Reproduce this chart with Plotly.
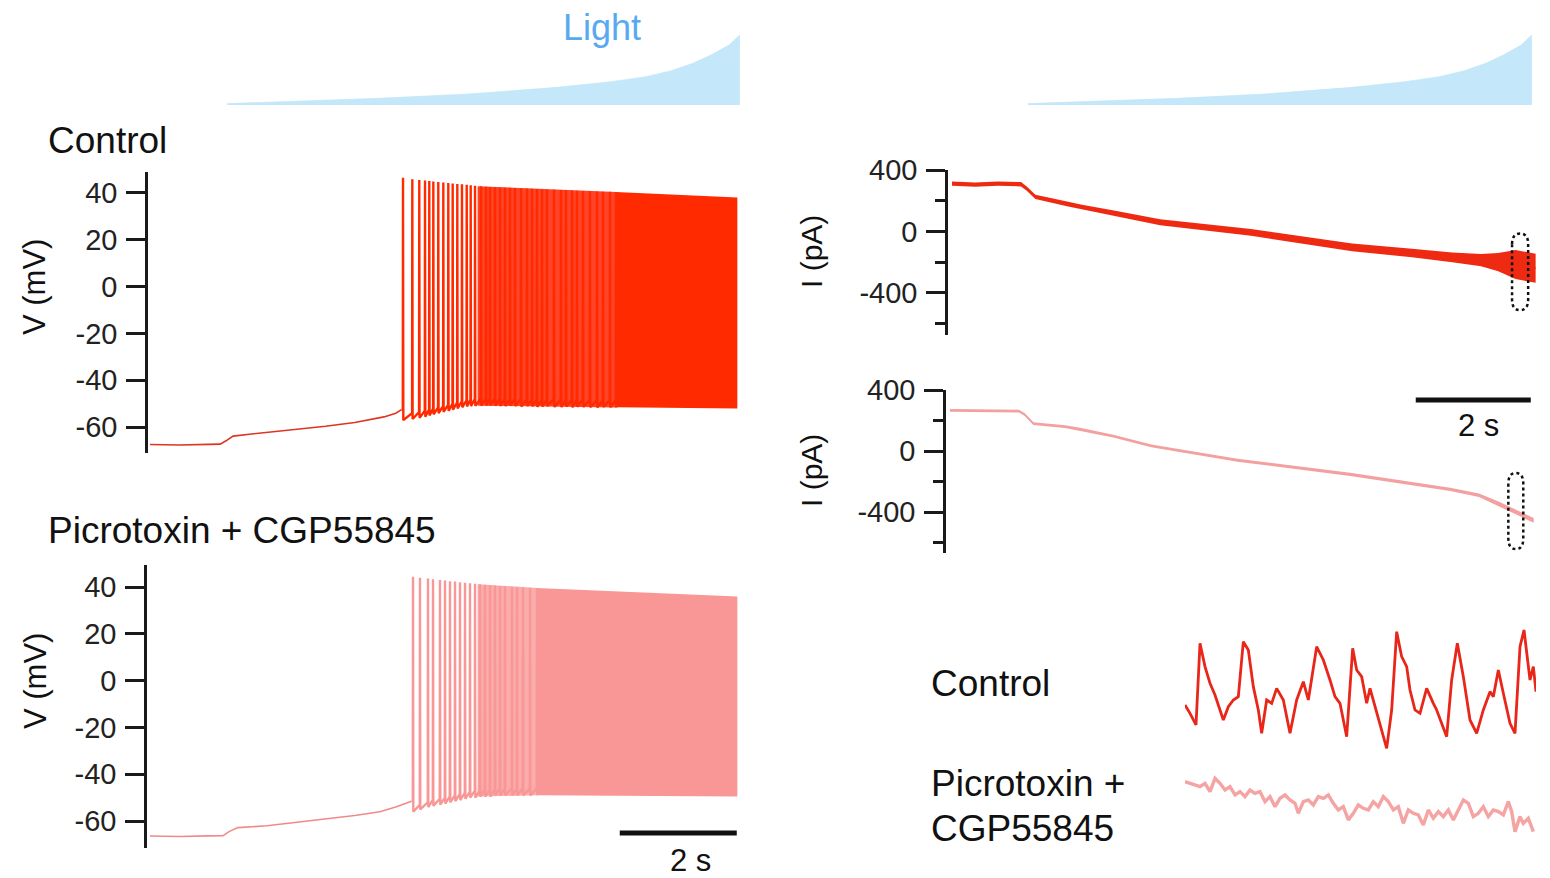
import plotly.graph_objects as go

W, H = 1550, 878
FONT = "Liberation Sans, Arial, Helvetica, sans-serif"

# ---------------- light stimulus (relative intensity vs time, s) ----------------
light_t = [1.32, 2.38, 3.91, 5.44, 6.96, 7.88, 8.48, 8.91, 9.28, 9.59, 9.90, 10.08, 10.081]
light_i = [0.02, 0.048, 0.095, 0.157, 0.252, 0.333, 0.405, 0.49, 0.595, 0.714, 0.857, 1.0, 0.0]

# ---------------- current clamp, Control ----------------
ctrl_pre_t = [0.0, 0.5, 1.0, 1.2, 1.3, 1.42, 1.7, 2.5, 3.0, 3.5, 4.0, 4.2, 4.3]
ctrl_pre_v = [-67.4, -67.6, -67.3, -67.2, -65.8, -63.8, -63.0, -61.0, -59.6, -58.0, -55.6, -54.0, -52.5]
ctrl_spk_t = [4.325, 4.484, 4.603, 4.701, 4.774, 4.843, 4.928, 5.014, 5.099, 5.174,
              5.253, 5.333, 5.414, 5.482, 5.556, 5.658, 5.744, 5.812, 5.897, 5.983,
              6.068, 6.154, 6.239, 6.342, 6.444, 6.530, 6.615, 6.701, 6.786, 6.906,
              7.026, 7.111, 7.214, 7.299, 7.402, 7.521, 7.641, 7.744, 7.863, 7.966]
ctrl_spk_peak = [46.4, 45.8, 45.5, 45.2, 45.0, 44.8, 44.6, 44.4, 44.2, 44.0,
                 43.8, 43.6, 43.4, 43.2, 43.0, 42.8, 42.6, 42.5, 42.4, 42.3,
                 42.2, 42.1, 42.0, 41.9, 41.8, 41.7, 41.6, 41.5, 41.4, 41.3,
                 41.2, 41.1, 41.0, 40.9, 40.8, 40.7, 40.6, 40.5, 40.4, 40.3]
ctrl_spk_trough = [-57.0, -56.5, -56.0, -55.5, -55.0, -54.5, -54.0, -53.5, -53.0, -52.5,
                   -52.0, -51.5, -51.2, -51.0, -50.8, -50.8, -50.7, -50.7, -50.8, -50.9,
                   -51.0, -50.8, -51.0, -51.2, -51.0, -51.1, -51.3, -51.2, -51.0, -51.3,
                   -51.4, -51.2, -51.5, -51.3, -51.4, -51.5, -51.6, -51.4, -51.5, -51.6]
# envelopes of the merged high-frequency firing
ctrl_mix_t = [5.60, 7.97]
ctrl_mix_top = [42.8, 40.3]
ctrl_mix_bot = [-50.8, -51.6]
ctrl_dense_t = [7.96, 9.0, 10.04]
ctrl_dense_top = [40.3, 39.0, 38.0]
ctrl_dense_bot = [-51.5, -51.8, -52.0]

# ---------------- current clamp, Picrotoxin + CGP55845 ----------------
pic_pre_t = [0.0, 0.5, 1.0, 1.25, 1.35, 1.5, 2.0, 2.5, 3.0, 3.5, 3.93, 4.2, 4.47]
pic_pre_v = [-66.4, -66.6, -66.3, -66.2, -64.5, -62.8, -62.0, -60.6, -59.2, -57.6, -56.0, -54.0, -51.5]
pic_spk_t = [4.496, 4.615, 4.752, 4.838, 4.957, 5.043, 5.128, 5.214, 5.299, 5.385,
             5.470, 5.556, 5.641, 5.726, 5.812, 5.897, 5.983, 6.068, 6.188, 6.274,
             6.376, 6.496, 6.615]
pic_spk_peak = [44.4, 44.0, 43.6, 43.3, 43.0, 42.8, 42.5, 42.3, 42.0, 41.8,
                41.6, 41.4, 41.2, 41.0, 40.8, 40.6, 40.4, 40.2, 40.0, 39.9,
                39.8, 39.7, 39.6]
pic_spk_trough = [-56.0, -55.0, -54.0, -53.5, -53.0, -52.5, -52.0, -51.5, -51.0, -50.5,
                  -50.0, -50.0, -49.5, -49.5, -49.5, -49.0, -49.0, -49.0, -49.0, -49.0,
                  -49.0, -49.0, -49.0]
pic_mix_t = [5.60, 6.62]
pic_mix_top = [41.2, 39.6]
pic_mix_bot = [-49.5, -49.0]
pic_dense_t = [6.61, 8.3, 10.04]
pic_dense_top = [39.6, 37.8, 35.9]
pic_dense_bot = [-49.0, -49.2, -49.5]

# ---------------- voltage clamp currents (pA) ----------------
ictrl_t = [0.0, 0.4, 0.8, 1.2, 1.3, 1.45, 2.0, 2.26, 2.84, 3.62, 5.2, 6.96, 8.0, 8.7, 9.2, 9.5, 9.8, 10.15]
ictrl_mean = [312, 305, 312, 308, 280, 226, 180, 158, 117, 60, -6, -104, -140, -169, -186, -200, -215, -240]
ictrl_noise = [14, 14, 14, 14, 14, 14, 16, 16, 18, 20, 22, 25, 28, 32, 40, 60, 95, 95]

ipic_t = [0.0, 0.6, 1.2, 1.3, 1.45, 2.0, 2.26, 2.84, 3.5, 5.0, 6.96, 8.7, 9.2, 9.57, 9.9, 10.15]
ipic_mean = [268, 265, 262, 240, 180, 160, 144, 98, 35, -60, -153, -251, -290, -350, -410, -455]
ipic_noise = [9, 9, 9, 9, 9, 9, 9, 9, 9, 10, 10, 11, 12, 14, 15, 15]

# windows expanded below (time s, current pA)
win_ctrl = dict(t=[9.74, 10.02], i=[-513, -13])
win_pic = dict(t=[9.71, 9.97], i=[-643, -144])

# ---------------- expanded current segments (ms, pA) ----------------
osc_ctrl_t = [0, 3.75, 8.25, 11.25, 15, 18.75, 22.5, 26.25, 28.75, 32.5, 36.25, 40, 43.75, 47.5,
              51.25, 55, 57.5, 61.25, 65, 68.75, 73.75, 78.75, 83.75, 88.75, 92.5, 98.75,
              103.75, 108.75, 112.5, 116.25, 121.25, 125.75, 128.75, 132.5, 136.25, 138.75,
              142.5, 147.5, 151.25, 155, 158.75, 162.5, 166.25, 168.75, 172.5, 176.25,
              181.25, 186.25, 188.75, 196.25, 200, 204.25, 208.75, 213.75, 218.75, 223.75,
              228.75, 231.25, 235, 238.75, 243.75, 247.5, 251.25, 254.25, 258.75, 261.25, 263.25]
osc_ctrl_i = [7.5, -5, -22.5, 100, 65, 40, 22.5, 0, -15, 5, 15, 20, 102.5, 90,
              35, 0, -35, 15, 10, 32.5, 15, -35, 15, 42.5, 15, 95,
              75, 45, 20, 10, -40, 92.5, 60, 50, 10, 32.5,
              5, -30, -57.5, 0, 117.5, 80, 65, 30, 0, -5,
              32.5, 10, 0, -40, 45, 100, 50, -15, -35, 0,
              27.5, 20, 60, 25, -20, -35, 95, 120, 45, 65, 27.5]
osc_pic_t = [0, 3.75, 7.5, 11.25, 15, 18.75, 22.5, 26.25, 30, 33.75, 37.5, 41.25, 45, 48.75,
             52.5, 56.25, 60, 63.75, 67.5, 71.25, 75, 78.75, 82.5, 85, 88.75, 92.5, 96.25,
             100, 103.75, 107.5, 111.25, 115, 118.75, 122.5, 126.25, 130, 133.75, 137.5,
             141.25, 145, 148.75, 152.5, 156.25, 160, 163.75, 167.5, 171.25, 175, 178.75,
             182.5, 186.25, 190, 193.75, 197.5, 201.25, 205, 208.75, 212.5, 216.25, 220,
             223.75, 227.5, 231.25, 235, 238.75, 242.5, 245, 247.5, 251.25, 253.75, 257.5, 261.25]
osc_pic_i = [-107.5, -110, -112.5, -115, -110, -122.5, -102.5, -110, -120, -115, -127.5, -122.5,
             -130, -120, -125, -122.5, -137.5, -130, -145, -132.5, -127.5, -135, -140, -155,
             -137.5, -135, -142.5, -130, -132.5, -127.5, -140, -150, -145, -165, -155, -142.5,
             -147.5, -150, -137.5, -145, -130, -137.5, -150, -145, -170, -150, -155, -157.5,
             -172.5, -150, -162.5, -152.5, -160, -150, -165, -150, -135, -140, -160, -155,
             -145, -160, -150, -152.5, -157.5, -137.5, -152.5, -182.5, -160, -170, -162.5, -182.5]

v_ticks = [-60, -40, -20, 0, 20, 40]
i_ticks = [-400, 0, 400]
i_minor_ticks = [-600, -200, 200]

SCALE_BAR_S = 2

RED = "#ff2a00"
RED_MIX = "#ff4428"
RED_PRE = "#dd3522"
PINK = "#f99696"
PINK_MIX = "#fbacac"
PINK_PRE = "#f08a8a"
LIGHT_FILL = "rgba(190,229,248,0.9)"


def px_x(a, b):
    return [a / W, b / W]


def px_y(top, bottom):
    return [1 - bottom / H, 1 - top / H]


def spike_path(pre_t, pre_v, spk_t, peaks, troughs):
    xs, ys = list(pre_t), list(pre_v)
    prev = pre_v[-1]
    for t, p, tr in zip(spk_t, peaks, troughs):
        xs += [t - 0.004, t, t + 0.005]
        ys += [prev, p, tr]
        prev = tr + 3.0
    return xs, ys


def band(t, top, bot):
    return list(t) + list(t)[::-1], list(top) + list(bot)[::-1]


fig = go.Figure()

# light ramps
for xa, ya in (("x5", "y5"), ("x6", "y6")):
    fig.add_trace(go.Scatter(x=light_t, y=light_i, mode="lines", fill="tozeroy",
                             fillcolor=LIGHT_FILL, line=dict(color="rgba(190,229,248,0.6)", width=1),
                             xaxis=xa, yaxis=ya, hoverinfo="skip"))

# voltage traces
for (pre_t, pre_v, st, sp, sd, mt, mtop, mbot, dt, dtop, dbot, col, mixcol, precol, xa, ya) in (
    (ctrl_pre_t, ctrl_pre_v, ctrl_spk_t, ctrl_spk_peak, ctrl_spk_trough,
     ctrl_mix_t, ctrl_mix_top, ctrl_mix_bot, ctrl_dense_t, ctrl_dense_top, ctrl_dense_bot,
     RED, RED_MIX, RED_PRE, "x", "y"),
    (pic_pre_t, pic_pre_v, pic_spk_t, pic_spk_peak, pic_spk_trough,
     pic_mix_t, pic_mix_top, pic_mix_bot, pic_dense_t, pic_dense_top, pic_dense_bot,
     PINK, PINK_MIX, PINK_PRE, "x2", "y2"),
):
    bx, by = band(mt, mtop, mbot)
    fig.add_trace(go.Scatter(x=bx, y=by, mode="lines", fill="toself", fillcolor=mixcol,
                             line=dict(width=0), xaxis=xa, yaxis=ya, hoverinfo="skip"))
    bx, by = band(dt, dtop, dbot)
    fig.add_trace(go.Scatter(x=bx, y=by, mode="lines", fill="toself", fillcolor=col,
                             line=dict(width=0), xaxis=xa, yaxis=ya, hoverinfo="skip"))
    fig.add_trace(go.Scatter(x=pre_t, y=pre_v, mode="lines",
                             line=dict(color=precol, width=1.6), xaxis=xa, yaxis=ya, hoverinfo="skip"))
    sx, sy = spike_path(pre_t[-1:], pre_v[-1:], st, sp, sd)
    fig.add_trace(go.Scatter(x=sx, y=sy, mode="lines",
                             line=dict(color=col, width=2.4, simplify=False),
                             xaxis=xa, yaxis=ya, hoverinfo="skip"))

# voltage-clamp currents
for (t, m, n, col, w, xa, ya) in ((ictrl_t, ictrl_mean, ictrl_noise, "#ee2a12", 1.5, "x3", "y3"),
                                  (ipic_t, ipic_mean, ipic_noise, "#f3a0a0", 1.2, "x4", "y4")):
    top = [a + b for a, b in zip(m, n)]
    bot = [a - b for a, b in zip(m, n)]
    bx, by = band(t, top, bot)
    fig.add_trace(go.Scatter(x=bx, y=by, mode="lines", fill="toself", fillcolor=col,
                             line=dict(width=0), xaxis=xa, yaxis=ya, hoverinfo="skip"))
    fig.add_trace(go.Scatter(x=t, y=m, mode="lines", line=dict(color=col, width=w),
                             xaxis=xa, yaxis=ya, hoverinfo="skip"))

# expanded segments
fig.add_trace(go.Scatter(x=osc_ctrl_t, y=osc_ctrl_i, mode="lines",
                         line=dict(color="#e8261a", width=2.8), xaxis="x7", yaxis="y7", hoverinfo="skip"))
fig.add_trace(go.Scatter(x=osc_pic_t, y=osc_pic_i, mode="lines",
                         line=dict(color="#f5a3a3", width=3.4), xaxis="x7", yaxis="y7", hoverinfo="skip"))

# ---------------- axes ----------------
tickfont = dict(family=FONT, size=29, color="#222")


def v_axis(domain, rng, anchor, ticks, minor_ticks=None):
    d = dict(domain=domain, range=rng, anchor=anchor, showgrid=False, zeroline=False,
             showline=True, linecolor="#1a1a1a", linewidth=2.5, ticks="outside",
             ticklen=19, tickwidth=2.5, tickcolor="#1a1a1a", tickmode="array",
             tickvals=ticks, ticktext=[str(v) for v in ticks],
             tickfont=tickfont, ticklabelstandoff=3, fixedrange=True, automargin=False)
    if minor_ticks:
        d["minor"] = dict(ticks="outside", ticklen=10, tickwidth=2.5, tickcolor="#1a1a1a",
                          tickmode="array", tickvals=minor_ticks, showgrid=False)
    return d


def hidden(domain, rng, anchor):
    return dict(domain=domain, range=rng, anchor=anchor, visible=False,
                fixedrange=True, automargin=False)


left_rng = [-2 / 58.5, (740 - 150) / 58.5]
right_rng_top = [-4 / 57.5, (1545 - 952) / 57.5]
right_rng_bot = [-4 / 57.5, (1545 - 950) / 57.5]

fig.update_layout(
    width=W, height=H, margin=dict(l=0, r=0, t=0, b=0, pad=0, autoexpand=False),
    paper_bgcolor="white", plot_bgcolor="rgba(0,0,0,0)", showlegend=False,
    xaxis=hidden(px_x(148, 740), left_rng, "y"),
    yaxis=v_axis(px_y(171.7, 453), [-71, 49], "x", v_ticks),
    xaxis2=hidden(px_x(147, 740), [-3 / 58.5, (740 - 150) / 58.5], "y2"),
    yaxis2=v_axis(px_y(565, 848), [-71.5, 49.4], "x2", v_ticks),
    xaxis3=hidden(px_x(948, 1545), right_rng_top, "y3"),
    yaxis3=v_axis(px_y(170, 335), [-675, 401], "x3", i_ticks, i_minor_ticks),
    xaxis4=hidden(px_x(946, 1545), right_rng_bot, "y4"),
    yaxis4=v_axis(px_y(390, 553), [-669, 401], "x4", i_ticks, i_minor_ticks),
    xaxis5=hidden(px_x(148, 740), left_rng, "y5"),
    yaxis5=hidden(px_y(35, 105), [0, 1], "x5"),
    xaxis6=hidden(px_x(948, 1545), right_rng_top, "y6"),
    yaxis6=hidden(px_y(35, 105), [0, 1], "x6"),
    xaxis7=hidden(px_x(1185, 1536), [0, 263.25], "y7"),
    yaxis7=hidden(px_y(610, 843.3), [-200, 150], "x7"),
)

# ---------------- scale bars and expanded windows ----------------
shapes = [
    dict(type="line", xref="x2", yref="paper", x0=10.03 - SCALE_BAR_S, x1=10.03,
         y0=1 - 833 / H, y1=1 - 833 / H, line=dict(color="#111", width=5)),
    dict(type="line", xref="x4", yref="paper", x0=10.1 - SCALE_BAR_S, x1=10.1,
         y0=1 - 400 / H, y1=1 - 400 / H, line=dict(color="#111", width=5)),
]


def stadium(t, i, r):
    l, rr = t
    b, tp = i
    c = (l + rr) / 2
    return (f"M {l},{tp - r} L {l},{b + r} Q {l},{b} {c},{b} Q {rr},{b} {rr},{b + r} "
            f"L {rr},{tp - r} Q {rr},{tp} {c},{tp} Q {l},{tp} {l},{tp - r} Z")


shapes.append(dict(type="path", xref="x3", yref="y3", path=stadium(win_ctrl["t"], win_ctrl["i"], 70),
                   line=dict(color="#111", width=2.5, dash="dot")))
shapes.append(dict(type="path", xref="x4", yref="y4", path=stadium(win_pic["t"], win_pic["i"], 70),
                   line=dict(color="#111", width=2.5, dash="dot")))
fig.update_layout(shapes=shapes)

# ---------------- text ----------------


def label(text, x, y, size=37, color="#111", xanchor="left", angle=0):
    fig.add_annotation(text=text, x=x / W, y=1 - y / H, xref="paper", yref="paper",
                       xanchor=xanchor, yanchor="middle", showarrow=False, textangle=angle,
                       font=dict(family=FONT, size=size, color=color))


label("Light", 602, 27, size=36, color="#58a9f2", xanchor="center")
label("Control", 46, 140)
label("Picrotoxin + CGP55845", 46, 530)
label("V (mV)", 35, 287, size=31, xanchor="center", angle=-90)
label("V (mV)", 35, 681, size=31, xanchor="center", angle=-90)
label("I (pA)", 812, 252, size=30, xanchor="center", angle=-90)
label("I (pA)", 812, 471, size=30, xanchor="center", angle=-90)
label("2 s", 690, 860, size=31, xanchor="center")
label("2 s", 1478, 425, size=31, xanchor="center")
label("Control", 929, 683)
label("Picrotoxin +", 929, 783)
label("CGP55845", 929, 828)

fig.write_html("out.html")
